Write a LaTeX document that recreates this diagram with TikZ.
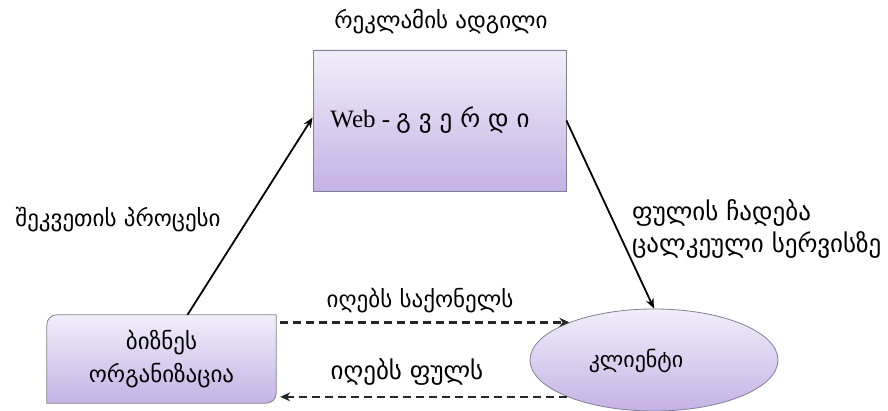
\documentclass[tikz,border=0pt]{standalone}
\usepackage{fontspec}
\setmainfont{DejaVu Sans}
\newfontfamily\webfont{Liberation Serif}
\usetikzlibrary{shapes.geometric,arrows.meta,calc}
\definecolor{edge}{HTML}{808090}
\definecolor{toplav}{HTML}{F2EEFA}
\definecolor{botlav}{HTML}{C4B2E5}
\tikzset{
  lbl/.style={font=\fontsize{23}{27}\selectfont, inner sep=0pt, text=black},
  solidarrow/.style={-{Stealth[length=10pt,width=8pt]}, line width=1.8pt, black},
  dasharrow/.style={-{Stealth[length=10pt,width=9pt]}, line width=2.6pt, black!85, dash pattern=on 8pt off 5pt},
  boxfill/.style={top color=toplav, bottom color=botlav, draw=edge, line width=0.8pt}
}
\begin{document}
\begin{tikzpicture}[x=1pt,y=-1pt]
\useasboundingbox (0,0) rectangle (888,411);
% nodes
\node[lbl] (toplbl) at (441,22) {რეკლამის ადგილი};
\node[boxfill, rectangle, minimum width=253pt, minimum height=141pt, inner sep=0pt] (web) at (439.5,120.5) {};
\node[inner sep=0pt] (webtxt) at (430,120) {\webfont\fontsize{25}{29}\selectfont Web - {\rmfamily\fontsize{25}{29}\selectfont გ ვ ე რ დ ი}};
\node[lbl] (leftlbl) at (118,220) {შეკვეთის პროცესი};
\node[lbl, font=\fontsize{25}{29}\selectfont, anchor=west, align=left] (rightlbl) at (632,229) {ფულის ჩადება\\[3pt]ცალკეული სერვისზე};
% business box with two rounded corners
\node[rectangle, minimum width=229pt, minimum height=88pt, inner sep=0pt] (biz) at (161.5,359) {};
\path[boxfill] (biz.south west) [rounded corners=10pt] -- (biz.north west) [sharp corners] -- (biz.north east) [rounded corners=10pt] -- (biz.south east) [sharp corners] -- cycle;
\node[lbl, align=center] (biztxt) at (biz.center) {ბიზნეს\\[6pt]ორგანიზაცია};
\node[boxfill, ellipse, minimum width=248pt, minimum height=102pt, inner sep=0pt] (cl) at (654,360) {};
\node[lbl, font=\fontsize{22}{26}\selectfont] (cltxt) at (636,361) {კლიენტი};
\node[lbl] (goodslbl) at (420,301) {იღებს საქონელს};
\node[lbl, font=\fontsize{25}{29}\selectfont] (moneylbl) at (407,372) {იღებს ფულს};
% connectors
\draw[solidarrow] ([xshift=26pt]biz.north) -- ([yshift=3pt]web.west);
\draw[solidarrow] (web.east) -- (cl.north);
\draw[dasharrow] ([xshift=4pt]biz.east |- cl.156.5) -- (cl.156.5);
\draw[dasharrow] (cl.203.5) -- ([xshift=4pt]biz.east |- cl.203.5);
\end{tikzpicture}
\end{document}
